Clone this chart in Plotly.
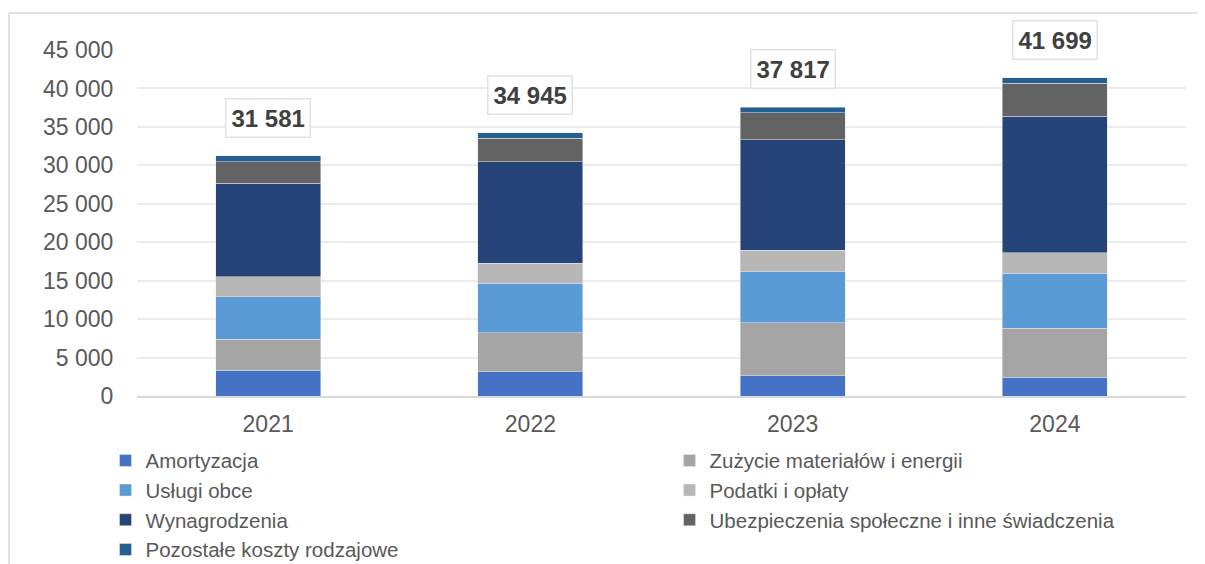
import plotly.graph_objects as go

years = ["2021", "2022", "2023", "2024"]
totals = [31581, 34945, 37817, 41699]

amortyzacja = [3380, 3160, 2645, 2470]
zuzycie = [3990, 5070, 6850, 6370]
uslugi = [5550, 6420, 6760, 7110]
podatki = [2600, 2645, 2730, 2690]
wynagrodzenia = [12140, 13180, 14350, 17730]
ubezpieczenia = [2820, 3030, 3510, 4300]
pozostale = [735, 740, 690, 690]

y_ticks = [0, 5000, 10000, 15000, 20000, 25000, 30000, 35000, 40000, 45000]

series = [
    ("Amortyzacja", amortyzacja, "#4472C4"),
    ("Zużycie materiałów i energii", zuzycie, "#A5A5A5"),
    ("Usługi obce", uslugi, "#5B9BD5"),
    ("Podatki i opłaty", podatki, "#B7B7B7"),
    ("Wynagrodzenia", wynagrodzenia, "#264478"),
    ("Ubezpieczenia społeczne i inne świadczenia", ubezpieczenia, "#636363"),
    ("Pozostałe koszty rodzajowe", pozostale, "#255E91"),
]

FONT = "Liberation Sans, Arial, sans-serif"


def fmt(v):
    return f"{v:,}".replace(",", " ")


xpos = list(range(len(years)))

fig = go.Figure()
for name, vals, col in series:
    fig.add_trace(go.Bar(name=name, x=xpos, y=vals, width=0.4,
                         marker=dict(color=col, line=dict(color="#e8e8e8", width=0.5))))

stack_tops = [sum(s[1][i] for s in series) for i in range(len(years))]
for xp, top, tot in zip(xpos, stack_tops, totals):
    fig.add_annotation(
        x=xp, y=top, yanchor="bottom", yshift=18, showarrow=False,
        text="<b>" + fmt(tot) + "</b>",
        font=dict(family=FONT, size=24, color="#404040"),
        bgcolor="white", bordercolor="#e2e2e2", borderwidth=1.5, borderpad=5,
    )

# outer chart frame (only top and left edges visible in the crop)
fig.add_shape(type="line", xref="paper", yref="paper",
              x0=-0.122, x1=1.3, y0=1.107, y1=1.107,
              line=dict(color="#d9d9d9", width=1.5), layer="below")
fig.add_shape(type="line", xref="paper", yref="paper",
              x0=-0.122, x1=-0.122, y0=-1.0, y1=1.107,
              line=dict(color="#d9d9d9", width=1.5), layer="below")

fig.update_layout(
    barmode="stack",
    width=1205, height=564,
    margin=dict(l=129, r=27, t=42, b=176, autoexpand=False),
    paper_bgcolor="white", plot_bgcolor="white",
    font=dict(family=FONT, color="#595959"),
    showlegend=True,
    legend=dict(
        orientation="h", x=-0.03, xanchor="left", y=-0.129, yanchor="top",
        traceorder="normal", entrywidth=519, entrywidthmode="pixels",
        font=dict(family=FONT, size=20.5, color="#595959"),
    ),
)
fig.update_yaxes(
    range=[0, 45000], tickvals=y_ticks, ticktext=[fmt(v) for v in y_ticks],
    showgrid=True, gridcolor="#ebebeb", gridwidth=1.5,
    zeroline=False, showline=False,
    ticks="outside", ticklen=18, tickcolor="rgba(0,0,0,0)",
    tickfont=dict(family=FONT, size=23, color="#595959"),
)
fig.update_xaxes(
    type="linear", range=[-0.5, len(years) - 0.5],
    tickvals=xpos, ticktext=years, showgrid=False, zeroline=False,
    showline=True, linecolor="#d9d9d9", linewidth=1.5,
    ticks="outside", ticklen=7, tickcolor="rgba(0,0,0,0)",
    tickfont=dict(family=FONT, size=23, color="#595959"),
)

fig.write_html("out.html")
